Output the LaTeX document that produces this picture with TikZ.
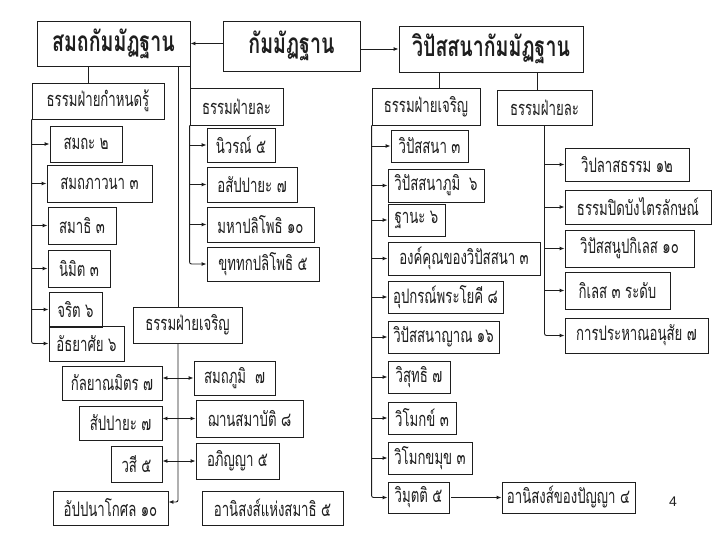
\documentclass[tikz,border=0pt]{standalone}
\usepackage{fontspec}
\newfontfamily\thai[Script=Thai,FakeStretch=0.66]{Loma}
\newfontfamily\thaihead[Script=Thai,FakeStretch=0.7]{Loma}
\newfontfamily\pagenum{Liberation Sans}
\usetikzlibrary{arrows.meta}
\definecolor{ink}{HTML}{1E1E1E}

\begin{document}
\begin{tikzpicture}[x=1pt,y=-1pt,
    box/.style={draw=ink,line width=0.9pt,inner sep=0pt,text=ink,
      font=\thai\fontsize{20}{20}\selectfont},
    title/.style={box,font=\thaihead\bfseries\fontsize{28}{28}\selectfont},
    link/.style={draw=ink,line width=0.9pt},
    arr/.style={link,-{Latex[length=5pt,width=4pt]}},
    both/.style={link,{Latex[length=5pt,width=4pt]}-{Latex[length=5pt,width=4pt]}},
    spine/.style={arr,rounded corners=2pt}]
  \useasboundingbox (0,0) rectangle (720,540);
  % top row
  \node[title,minimum width=153,minimum height=45] (samatha) at (113.5,43.5) {สมถกัมมัฏฐาน};
  \node[title,minimum width=137,minimum height=50] (kam) at (291.5,46) {กัมมัฏฐาน};
  \node[title,minimum width=184,minimum height=46] (vipas) at (491,49) {วิปัสสนากัมมัฏฐาน};
  \draw[arr] (kam.west |- samatha) -- (samatha.east);
  \draw[arr] (kam.east |- vipas) -- (vipas.west);

  % samatha: things to know
  \node[box,minimum width=132,minimum height=36] (kamnot) at (98,101) {ธรรมฝ่ายกำหนดรู้};
  \draw[link] ([xshift=-25.5pt]samatha.south) -- ([xshift=-25.5pt]samatha.south |- kamnot.north);
  \node[box,minimum width=72,minimum height=36] (k1) at (86,144) {สมถะ ๒};
  \node[box,minimum width=105,minimum height=37] (k2) at (99.5,183.5) {สมถภาวนา ๓};
  \node[box,minimum width=68,minimum height=37] (k3) at (82,225.5) {สมาธิ ๓};
  \node[box,minimum width=62,minimum height=37] (k4) at (79,268.5) {นิมิต ๓};
  \node[box,minimum width=53,minimum height=35] (k5) at (75.5,309.5) {จริต ๖};
  \node[box,minimum width=75,minimum height=35] (k6) at (86.5,343.5) {อัธยาศัย ๖};
  \draw[spine] (kamnot.south west) |- (k6.west);
  \foreach \i in {1,...,5}
    \draw[arr] (kamnot.south west |- k\i) -- (k\i.west);

  % samatha: things to give up
  \node[box,minimum width=93,minimum height=37] (la1) at (236.5,106.5) {ธรรมฝ่ายละ};
  \draw[link] (samatha.south east) -- (samatha.south east |- la1.north);
  \node[box,minimum width=68,minimum height=34] (l1) at (241,145) {นิวรณ์ ๕};
  \node[box,minimum width=90,minimum height=35] (l2) at (252,184.5) {อสัปปายะ ๗};
  \node[box,minimum width=107,minimum height=35] (l3) at (260.5,224.5) {มหาปลิโพธิ ๑๐};
  \node[box,minimum width=112,minimum height=34] (l4) at (263,264) {ขุททกปลิโพธิ ๕};
  \draw[spine] (la1.south west) |- (l4.west);
  \foreach \i in {1,...,3}
    \draw[arr] (la1.south west |- l\i) -- (l\i.west);

  % samatha: things to develop
  \node[box,minimum width=109,minimum height=36] (dev1) at (187.5,325) {ธรรมฝ่ายเจริญ};
  \draw[link] ([xshift=64.5pt]samatha.south) -- ([xshift=64.5pt]samatha.south |- dev1.north);
  \node[box,minimum width=100,minimum height=34] (kalyana) at (112,383) {กัลยาณมิตร ๗};
  \node[box,minimum width=81,minimum height=34] (bhumi) at (234.5,378) {สมถภูมิ ~๗};
  \node[box,minimum width=83,minimum height=34] (sappaya) at (120.5,423) {สัปปายะ ๗};
  \node[box,minimum width=107,minimum height=37] (jhana) at (249.5,418.5) {ฌานสมาบัติ ๘};
  \node[box,minimum width=51,minimum height=36] (vasi) at (136.5,464) {วสี ๕};
  \node[box,minimum width=83,minimum height=36] (abhinna) at (237.5,461) {อภิญญา ๕};
  \node[box,minimum width=115,minimum height=34] (appana) at (110.5,508) {อัปปนาโกศล ๑๐};
  \node[box,minimum width=141,minimum height=34] (anisamadhi) at (272.5,508) {อานิสงส์แห่งสมาธิ ๕};
  \draw[spine] ([xshift=-9.5pt]dev1.south) |- ([yshift=6pt]appana.east);
  \draw[both] (kalyana.east |- bhumi) -- (bhumi.west);
  \draw[both] (sappaya.east |- jhana) -- (jhana.west);
  \draw[both] (vasi.east |- abhinna) -- (abhinna.west);

  % vipassana: things to develop
  \node[box,minimum width=108,minimum height=37] (dev2) at (426,106.5) {ธรรมฝ่ายเจริญ};
  \draw[link] ([xshift=-52pt]vipas.south) -- ([xshift=-52pt]vipas.south |- dev2.north);
  \node[box,minimum width=77,minimum height=32] (v1) at (429.5,146) {วิปัสสนา ๓};
  \node[box,minimum width=96,minimum height=33] (v2) at (436,185.5) {วิปัสสนาภูมิ ~๖};
  \node[box,minimum width=57,minimum height=32] (v3) at (416.5,220) {ฐานะ ๖};
  \node[box,minimum width=152,minimum height=33] (v4) at (464,258.5) {องค์คุณของวิปัสสนา ๓};
  \node[box,minimum width=115,minimum height=32] (v5) at (445.5,297) {อุปกรณ์พระโยคี ๘};
  \node[box,minimum width=111,minimum height=32] (v6) at (443.5,337) {วิปัสสนาญาณ ๑๖};
  \node[box,minimum width=62,minimum height=32] (v7) at (419,377) {วิสุทธิ ๗};
  \node[box,minimum width=68,minimum height=32] (v8) at (422,418) {วิโมกข์ ๓};
  \node[box,minimum width=84,minimum height=32] (v9) at (430,458) {วิโมกขมุข ๓};
  \node[box,minimum width=61,minimum height=31] (v10) at (418.5,497.5) {วิมุตติ ๕};
  \node[box,minimum width=133,minimum height=31] (panna) at (568.5,497.5) {อานิสงส์ของปัญญา ๔};
  \draw[spine] (dev2.south west) |- (v10.west);
  \foreach \i in {1,...,9}
    \draw[arr] (dev2.south west |- v\i) -- (v\i.west);
  \draw[arr] ([xshift=2pt]v10.east) -- (panna.west);

  % vipassana: things to give up
  \node[box,minimum width=95,minimum height=35] (la2) at (544.5,107.5) {ธรรมฝ่ายละ};
  \draw[link] ([xshift=46pt]vipas.south) -- ([xshift=46pt]vipas.south |- la2.north);
  \node[box,minimum width=124,minimum height=33] (r1) at (627,164.5) {วิปลาสธรรม ๑๒};
  \node[box,minimum width=146,minimum height=34] (r2) at (638,207) {ธรรมปิดบังไตรลักษณ์};
  \node[box,minimum width=129,minimum height=37] (r3) at (629.5,248.5) {วิปัสสนูปกิเลส ๑๐};
  \node[box,minimum width=105,minimum height=37] (r4) at (617.5,290.5) {กิเลส ๓ ระดับ};
  \node[box,minimum width=143,minimum height=35] (r5) at (636.5,335.5) {การประหาณอนุสัย ๗};
  \draw[spine] (la2.south) |- (r5.west);
  \foreach \i in {1,...,4}
    \draw[arr] (la2.south |- r\i) -- (r\i.west);

  \node[font=\pagenum\fontsize{14}{14}\selectfont,text=ink] (pageno) at (673,502) {4};
\end{tikzpicture}
\end{document}
